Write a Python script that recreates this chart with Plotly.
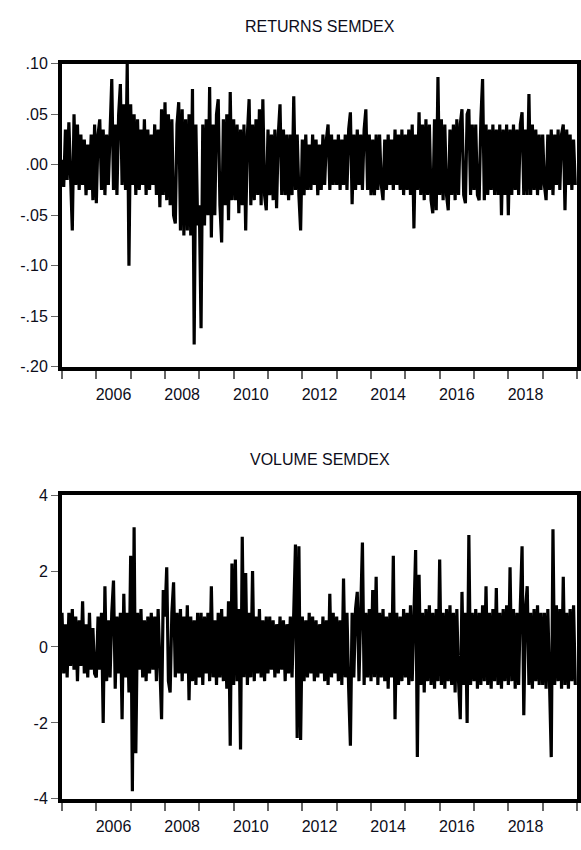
import plotly.graph_objects as go

# ---------------- data (20 observations per year, 2005-2019) ----------------
years = list(range(2005, 2020))
obs_per_year = 20

returns_semdex = [
    # 2005
    0.005, -0.022, 0.035, -0.015, 0.042, -0.01, -0.065, 0.05, -0.02, 0.04, -0.025, 0.03, -0.02, 0.025, -0.03, 0.02, -0.025, 0.03, -0.035, 0.04,
    # 2006
    -0.038, 0.03, 0.045, -0.025, 0.035, -0.03, 0.03, -0.02, 0.04, 0.085, -0.025, 0.04, -0.03, 0.05, 0.08, -0.02, 0.06, -0.025, 0.10, -0.10,
    # 2007
    0.06, -0.02, 0.05, -0.03, 0.045, -0.025, 0.035, -0.02, 0.045, -0.03, 0.035, -0.025, 0.03, -0.02, 0.04, -0.03, 0.035, -0.042, 0.055, -0.03,
    # 2008
    0.062, -0.035, 0.05, -0.04, 0.045, -0.05, -0.058, 0.04, 0.062, -0.065, 0.055, -0.07, 0.045, -0.065, 0.05, -0.07, 0.075, -0.178, 0.04, -0.06,
    # 2009
    -0.04, -0.162, 0.04, -0.06, 0.045, -0.05, 0.077, -0.072, 0.04, -0.05, 0.05, 0.065, -0.04, -0.077, 0.045, -0.04, 0.05, -0.055, 0.072, -0.035,
    # 2010
    0.045, -0.035, 0.04, -0.048, 0.035, -0.04, 0.04, -0.065, 0.03, 0.065, -0.04, 0.04, -0.035, 0.045, -0.03, 0.055, -0.04, 0.065, -0.03, -0.045,
    # 2011
    0.035, -0.03, 0.03, -0.035, 0.035, -0.043, 0.03, 0.06, -0.03, 0.035, -0.03, 0.03, -0.035, 0.03, -0.03, 0.068, -0.025, 0.03, -0.03, -0.065,
    # 2012
    0.025, -0.03, 0.03, -0.025, 0.02, -0.025, 0.03, -0.02, 0.025, -0.03, 0.02, -0.025, 0.03, -0.02, 0.025, 0.04, -0.025, 0.03, -0.02, 0.025,
    # 2013
    -0.02, 0.03, -0.025, 0.025, -0.02, 0.03, -0.025, 0.035, 0.052, -0.039, 0.03, -0.025, 0.035, -0.02, 0.03, -0.025, 0.035, 0.055, -0.025, 0.03,
    # 2014
    -0.03, 0.025, -0.03, 0.03, -0.025, 0.03, -0.02, -0.035, 0.025, -0.025, 0.03, -0.02, 0.025, -0.025, 0.035, -0.02, 0.03, -0.025, 0.035, -0.03,
    # 2015
    0.03, -0.025, 0.035, -0.03, 0.04, -0.063, 0.03, -0.025, 0.052, -0.03, 0.04, -0.035, 0.045, -0.03, 0.04, -0.035, -0.048, 0.045, -0.045, 0.087,
    # 2016
    -0.03, 0.045, -0.035, 0.04, -0.03, -0.045, 0.035, -0.03, 0.04, -0.035, 0.045, -0.03, 0.04, 0.055, -0.03, -0.038, 0.05, 0.055, -0.03, 0.04,
    # 2017
    -0.025, 0.04, -0.03, -0.035, 0.045, 0.085, -0.035, 0.04, -0.03, 0.035, -0.025, 0.04, -0.03, 0.035, -0.03, 0.04, -0.05, 0.035, -0.03, 0.04,
    # 2018
    -0.05, 0.035, -0.03, 0.04, -0.025, 0.035, -0.03, 0.04, 0.052, -0.03, 0.035, -0.03, 0.07, -0.03, 0.04, -0.025, 0.035, -0.03, 0.03, -0.025,
    # 2019
    0.03, -0.02, -0.035, 0.03, -0.025, 0.035, -0.03, 0.03, -0.02, 0.035, -0.025, 0.03, 0.04, -0.045, 0.035, -0.02, 0.03, -0.025, 0.025, -0.02,
]

volume_semdex = [
    # 2005
    0.9, -0.7, 0.6, -0.8, 0.9, -0.5, 1.0, -0.6, 0.8, -0.9, 0.7, -0.5, 1.2, -0.7, 0.6, -0.8, 0.9, -0.6, 0.5, -0.7,
    # 2006
    -0.8, 0.8, -0.6, 0.9, -2.0, 1.6, -0.9, 0.7, -0.8, 0.9, 1.75, -1.1, 0.8, -0.7, 0.9, -1.9, 1.4, -0.8, 0.9, -1.2,
    # 2007
    2.4, -3.8, 3.15, -2.8, 0.9, -0.6, 1.0, -0.8, 0.7, -0.9, 0.8, -0.7, 0.9, -0.6, 0.8, -0.9, 1.0, -0.7, -1.9, 1.5,
    # 2008
    0.8, 2.1, -0.9, -1.2, 0.9, 1.7, -0.8, 0.9, -0.7, 1.0, -0.9, 0.8, -0.7, 1.1, -1.4, 0.8, -0.9, 0.7, -1.0, 0.9,
    # 2009
    -0.8, 0.9, -1.0, 0.8, -0.7, 0.9, -0.9, 1.6, -0.8, 0.7, -1.0, 0.9, -0.8, 1.0, -0.9, 0.8, -1.1, 1.2, -2.6, 2.2,
    # 2010
    -1.0, 2.3, -0.9, 1.0, -2.7, 2.9, -0.8, 1.95, -1.0, 0.9, -0.8, 2.0, -0.9, 0.8, -0.7, 1.0, -0.8, 0.7, -0.9, 0.8,
    # 2011
    -0.7, 0.8, -0.6, 0.7, -0.8, 0.6, -0.7, 0.8, -0.6, 0.7, -0.9, 0.6, -0.7, 0.8, -0.8, 0.9, 2.7, -2.4, 2.65, -2.45,
    # 2012
    0.8, -0.9, 0.7, -0.8, 0.9, -0.7, 0.8, -0.9, 0.7, -0.8, 0.6, -0.7, 0.8, -0.9, 0.7, -1.0, 1.4, -0.8, 0.9, -0.7,
    # 2013
    0.8, -0.9, 0.7, -1.0, 1.8, -0.8, 0.9, -1.1, -2.6, 0.9, -0.8, 1.0, 1.45, -0.9, 0.8, 2.75, -1.0, 0.9, -0.8, 1.0,
    # 2014
    -0.9, 1.5, -0.8, 1.85, -1.0, 0.9, -0.8, 1.0, -0.9, 0.8, -1.1, 0.9, -0.8, 2.4, -1.9, 0.9, -1.0, 0.8, -0.9, 1.0,
    # 2015
    -0.8, 0.9, -1.0, 1.1, -0.9, 1.0, 2.55, -2.9, 1.9, -1.0, 0.9, -1.2, 1.0, -0.9, 1.1, -1.0, 0.9, -1.1, 1.0, -0.9,
    # 2016
    2.3, -1.0, 0.9, -1.1, 1.0, -0.9, 1.1, -1.0, 0.9, -1.2, 1.0, -0.9, -1.9, 1.45, -1.0, 0.9, -2.0, 2.95, -1.0, 0.9,
    # 2017
    -0.9, 1.0, -1.1, 0.9, -1.0, 1.1, -0.9, 1.6, -1.0, 0.9, -1.1, 1.0, -0.9, 1.55, -1.0, 0.9, -1.1, 1.0, -0.9, 1.1,
    # 2018
    -1.0, 2.1, -0.9, 1.0, -1.1, 0.9, -1.0, 1.1, 2.65, -1.8, 1.0, 1.6, -1.0, 0.9, -1.1, 1.0, -0.9, 1.1, -1.0, 0.9,
    # 2019
    -1.0, 0.9, -1.1, 1.0, -0.9, -2.9, 3.1, -1.0, 1.1, -0.9, 1.0, -1.1, 1.85, -1.0, 0.9, -1.1, 1.0, -0.9, 1.1, -1.0,
]

# observation dates in decimal years
dates = [y + i / obs_per_year for y in years for i in range(obs_per_year)]

year_ticks = list(range(2005, 2021))
label_years = [2006, 2008, 2010, 2012, 2014, 2016, 2018]

ret_ticks = [-0.20, -0.15, -0.10, -0.05, 0.00, 0.05, 0.10]
ret_ticktext = ["-.20", "-.15", "-.10", "-.05", ".00", ".05", ".10"]
vol_ticks = [-4, -2, 0, 2, 4]
vol_ticktext = ["-4", "-2", "0", "2", "4"]

panel_titles = ["RETURNS SEMDEX", "VOLUME SEMDEX"]

# ---------------- figure ----------------
W, H = 581, 850
FONT = "Liberation Sans, Arial, sans-serif"
TXT = "#0d0d1a"

fig = go.Figure()
fig.add_trace(go.Scatter(x=dates, y=returns_semdex, mode="lines",
                         line=dict(color="black", width=3.2),
                         xaxis="x", yaxis="y", showlegend=False, hoverinfo="skip"))
fig.add_trace(go.Scatter(x=dates, y=volume_semdex, mode="lines",
                         line=dict(color="black", width=3.2),
                         xaxis="x2", yaxis="y2", showlegend=False, hoverinfo="skip"))

def px_to_paper(y_px):
    return 1 - y_px / H

def xaxis_cfg(anchor):
    return dict(
        domain=[0, 1], anchor=anchor, range=[2005, 2020],
        showgrid=False, zeroline=False,
        showline=True, mirror=True, linecolor="black", linewidth=4,
        tickmode="array",
        tickvals=[y + 0.5 for y in label_years],
        ticktext=[str(y) for y in label_years],
        ticks="outside", ticklen=10, tickcolor="rgba(0,0,0,0)",
        tickfont=dict(family=FONT, size=16, color=TXT),
        minor=dict(tickmode="array", tickvals=year_ticks, ticks="outside",
                   ticklen=8, tickwidth=1.5, tickcolor="#666666"),
    )

def yaxis_cfg(anchor, rng, dom, tv, tt):
    return dict(
        domain=dom, anchor=anchor, range=rng,
        showgrid=False, zeroline=False,
        showline=True, mirror=True, linecolor="black", linewidth=4,
        tickmode="array", tickvals=tv, ticktext=tt,
        ticks="outside", ticklen=7, tickwidth=1.2, tickcolor="#666666",
        tickfont=dict(family=FONT, size=16, color=TXT),
    )

fig.update_layout(
    width=W, height=H,
    margin=dict(l=62, r=3, t=0, b=0),
    paper_bgcolor="white", plot_bgcolor="white",
    xaxis=xaxis_cfg("y"),
    yaxis=yaxis_cfg("x", [-0.20, 0.10], [px_to_paper(366), px_to_paper(57)], ret_ticks, ret_ticktext),
    xaxis2=xaxis_cfg("y2"),
    yaxis2=yaxis_cfg("x2", [-4, 4], [px_to_paper(807), px_to_paper(497)], vol_ticks, vol_ticktext),
    annotations=[
        dict(text=panel_titles[0], xref="paper", yref="paper", x=0.5, y=px_to_paper(19),
             showarrow=False, xanchor="center", yanchor="middle",
             font=dict(family=FONT, size=16, color=TXT)),
        dict(text=panel_titles[1], xref="paper", yref="paper", x=0.5, y=px_to_paper(461),
             showarrow=False, xanchor="center", yanchor="middle",
             font=dict(family=FONT, size=16, color=TXT)),
    ],
)

fig.write_html(
    "out.html",
    config={"displayModeBar": False},
    post_script="document.body.style.margin='0';document.body.style.overflow='hidden';",
)
